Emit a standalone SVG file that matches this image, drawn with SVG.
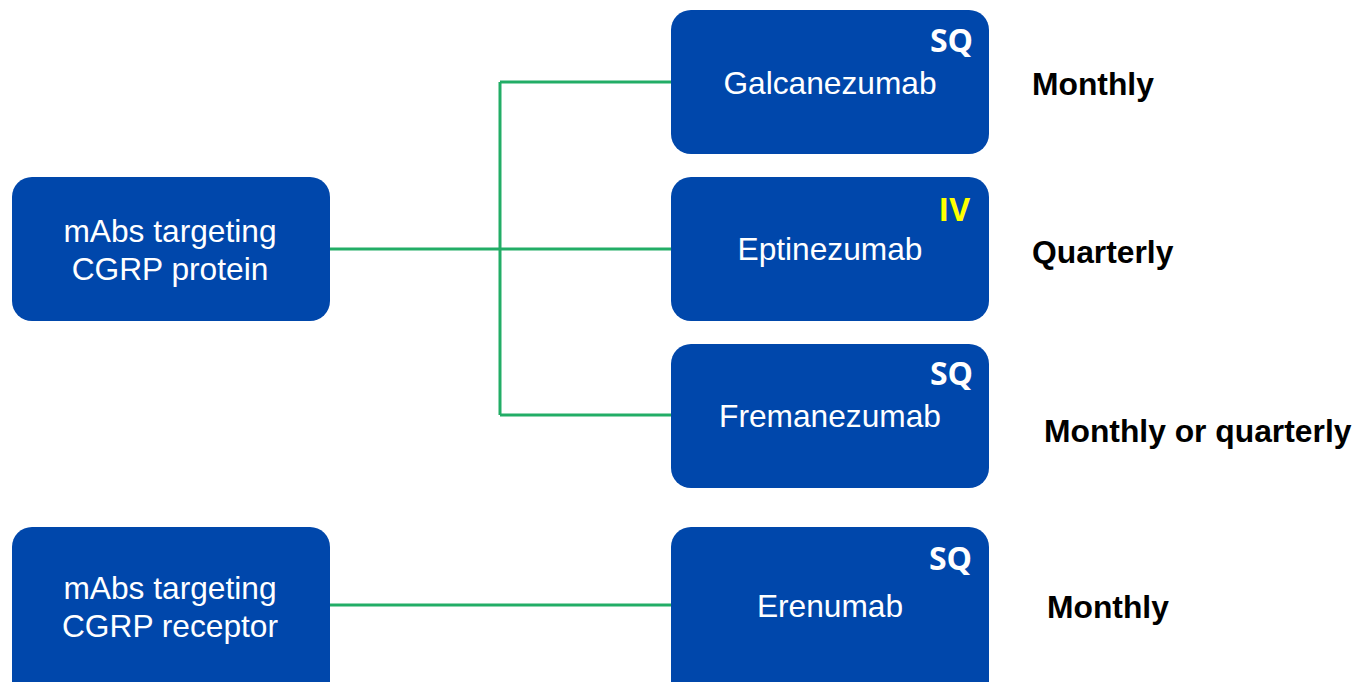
<svg xmlns="http://www.w3.org/2000/svg" width="1360" height="682" viewBox="0 0 1360 682">
<style>
.box{fill:#0047ab;}
.lbl{font-family:"Liberation Sans",Arial,sans-serif;font-size:31.7px;fill:#ffffff;text-anchor:middle;}
.tag{font-family:"Open Sans","Liberation Sans",sans-serif;font-weight:bold;font-size:32px;text-anchor:end;}
.freq{font-family:"Liberation Sans",Arial,sans-serif;font-weight:bold;font-size:31.8px;fill:#000000;}
.conn{stroke:#22ad66;stroke-width:3;fill:none;}
</style>
<rect width="1360" height="682" fill="#ffffff"/>
<g id="connectors">
<path class="conn" d="M330 249H671"/>
<path class="conn" d="M500 82V415"/>
<path class="conn" d="M500 82H671"/>
<path class="conn" d="M500 415H671"/>
<path class="conn" d="M330 605H671"/>
</g>
<g id="protein">
<rect class="box" x="12" y="177" width="318" height="144" rx="20"/>
<text class="lbl" x="170" y="242">mAbs targeting</text>
<text class="lbl" x="170" y="280">CGRP protein</text>
</g>
<g id="receptor">
<rect class="box" x="12" y="527" width="318" height="180" rx="20"/>
<text class="lbl" x="170" y="599">mAbs targeting</text>
<text class="lbl" x="170" y="637">CGRP receptor</text>
</g>
<g id="galcanezumab">
<rect class="box" x="671" y="10" width="318" height="144" rx="20"/>
<text class="tag" x="973" y="52" fill="#ffffff">SQ</text>
<text class="lbl" x="830" y="94">Galcanezumab</text>
</g>
<g id="eptinezumab">
<rect class="box" x="671" y="177" width="318" height="144" rx="20"/>
<text class="tag" x="970" y="221" fill="#ffff00">IV</text>
<text class="lbl" x="830" y="260">Eptinezumab</text>
</g>
<g id="fremanezumab">
<rect class="box" x="671" y="344" width="318" height="144" rx="20"/>
<text class="tag" x="973" y="385" fill="#ffffff">SQ</text>
<text class="lbl" x="830" y="427">Fremanezumab</text>
</g>
<g id="erenumab">
<rect class="box" x="671" y="527" width="318" height="180" rx="20"/>
<text class="tag" x="972" y="570" fill="#ffffff">SQ</text>
<text class="lbl" x="830" y="617">Erenumab</text>
</g>
<g id="frequencies">
<text class="freq" x="1032" y="95">Monthly</text>
<text class="freq" x="1032" y="263">Quarterly</text>
<text class="freq" x="1044" y="442">Monthly or quarterly</text>
<text class="freq" x="1047" y="618">Monthly</text>
</g>
</svg>
